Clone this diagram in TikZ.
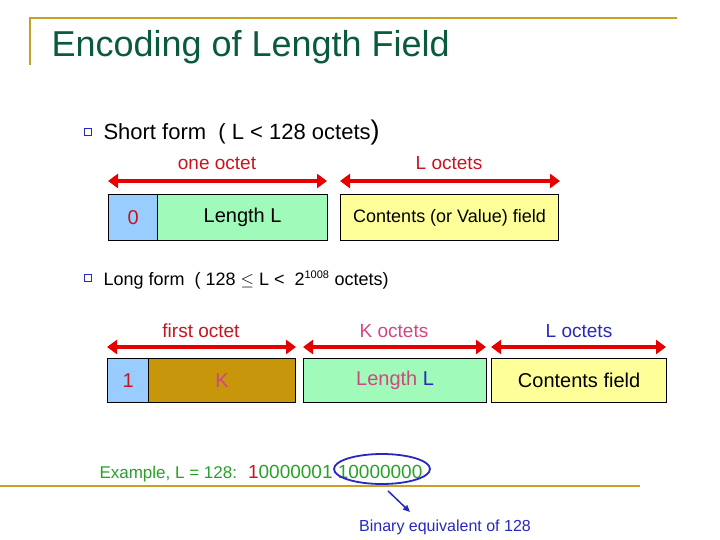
\documentclass[tikz,border=0pt]{standalone}
\usepackage{fontspec}
\setmainfont{Liberation Sans}
\usetikzlibrary{arrows.meta,shapes.geometric}
\definecolor{gold}{RGB}{200,160,40}
\definecolor{ttl}{RGB}{10,90,60}
\definecolor{lblue}{RGB}{153,204,255}
\definecolor{lgreen}{RGB}{160,250,185}
\definecolor{lyellow}{RGB}{255,255,153}
\definecolor{brown}{RGB}{200,150,10}
\definecolor{ared}{RGB}{230,0,0}
\definecolor{dred}{RGB}{200,20,30}
\definecolor{pink}{RGB}{210,70,130}
\definecolor{bblue}{RGB}{40,40,190}
\definecolor{egreen}{RGB}{40,160,40}
\tikzset{
 fld/.style={draw=black,line width=1.2pt,minimum height=46pt,inner sep=0pt,anchor=north west},
 dim/.style={ared,line width=3.5pt,{Triangle[length=10pt,width=14pt]}-{Triangle[length=10pt,width=14pt]}},
 lbl/.style={font=\fontsize{19}{22}\selectfont,anchor=base},
 bul/.style={draw=bblue,fill=white,minimum size=7pt,inner sep=0pt,line width=1pt},
}
\begin{document}
\begin{tikzpicture}[x=1pt,y=-1pt]
\useasboundingbox (0,0) rectangle (720,540);
\draw[gold,line width=2.5pt] (30,65) -- (30,18) -- (677,18);
\draw[gold,line width=2.5pt] (0,486) -- (640,486);
\node[ttl,anchor=base west,font=\fontsize{36}{40}\selectfont] (title) at (48,57) {Encoding of Length Field};
% short form
\node[bul] (b1) at (88,132) {};
\node[anchor=base west,font=\fontsize{22}{26}\selectfont] (sf) at (100,140) {Short form \ ( L < 128 octets\raisebox{0pt}{\fontsize{27}{27}\selectfont)}};
\coordinate (a1l) at (108,181); \coordinate (a1r) at (327,181);
\coordinate (a2l) at (340,181); \coordinate (a2r) at (560,181);
\draw[dim] (a1l) -- (a1r); \draw[dim] (a2l) -- (a2r);
\node[lbl,dred] (l1) at (217,170) {one octet};
\node[lbl,dred] (l2) at (449,170) {L octets};
\node[fld,fill=lblue,minimum width=49pt] (z) at (108,194) {\fontsize{20}{22}\selectfont\color{dred}0};
\node[fld,fill=lgreen,minimum width=170pt] (len) at (157,194) {\fontsize{20}{22}\selectfont Length L};
\node[fld,fill=lyellow,minimum width=218pt] (cont) at (340,194) {\fontsize{18}{20}\selectfont Contents (or Value) field};
% long form
\node[bul] (b2) at (88,278) {};
\node[anchor=base west,font=\fontsize{18}{21}\selectfont] (lf) at (100,285) {Long form \ ( 128 $\leq$ L < \ 2\textsuperscript{\fontsize{11}{11}\selectfont 1008} octets)};
\coordinate (b1l) at (107,347); \coordinate (b1r) at (296,347);
\coordinate (b2l) at (303,347); \coordinate (b2r) at (486,347);
\coordinate (b3l) at (491,347); \coordinate (b3r) at (666,347);
\draw[dim] (b1l) -- (b1r); \draw[dim] (b2l) -- (b2r); \draw[dim] (b3l) -- (b3r);
\node[lbl,dred] (m1) at (201,337) {first octet};
\node[lbl,pink] (m2) at (394,337) {K octets};
\node[lbl,bblue] (m3) at (579,337) {L octets};
\node[fld,fill=lblue,minimum width=41pt,minimum height=44pt] (one) at (107,358) {\fontsize{20}{22}\selectfont\color{dred}1};
\node[fld,fill=brown,minimum width=147pt,minimum height=44pt] (k) at (148,358) {\fontsize{20}{22}\selectfont\color{pink}K};
\node[fld,fill=lgreen,minimum width=183pt,minimum height=44pt] (ll) at (303,358) {\fontsize{20}{22}\selectfont\color{pink}Length \color{bblue}L};
\node[fld,fill=lyellow,minimum width=175pt,minimum height=44pt] (cf) at (491,358) {\fontsize{20}{22}\selectfont Contents field};
% example
\node[anchor=base west,egreen,font=\fontsize{17}{20}\selectfont] (ex) at (96,478) {Example, L = 128: \ {\fontsize{19}{22}\selectfont\color{dred}1\color{egreen}0000001 10000000}};
\node[draw=bblue,line width=1.8pt,ellipse,minimum width=96pt,minimum height=30pt] (ell) at (382,469) {};
\node[anchor=base,bblue,font=\fontsize{16}{19}\selectfont] (bin) at (445,531) {Binary equivalent of 128};
\coordinate (ae) at (410,512);
\draw[bblue,line width=1.5pt,-{Triangle[length=7pt,width=6pt]}] (ell.south) ++(6,6) -- (ae);
\end{tikzpicture}
\end{document}
